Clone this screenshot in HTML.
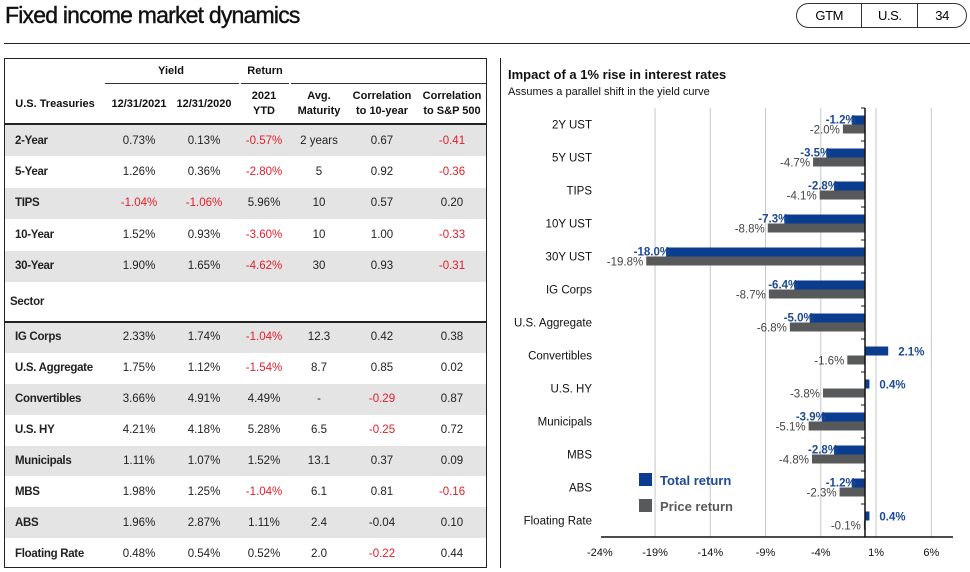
<!DOCTYPE html>
<html><head><meta charset="utf-8">
<style>
body{margin:0;width:970px;height:572px;background:#fff;font-family:"Liberation Sans",Arial,sans-serif;position:relative;overflow:hidden}
.abs{position:absolute}
#title{left:5px;top:2px;font-size:23px;letter-spacing:-0.8px;color:#111;-webkit-text-stroke:0.4px #111}
#pill{left:796px;top:3px;width:171px;height:25px;border:1px solid #333;border-radius:13px;box-sizing:border-box;display:flex;font-size:13px;letter-spacing:-0.4px}
#pill div{display:flex;align-items:center;justify-content:center;border-left:1px solid #333}
#pill div:first-child{border-left:none}
#rule{left:4px;top:43px;width:966px;height:1px;background:#222}
#tbl{left:4px;top:58px;width:483px;height:510px;border:1px solid #222;border-bottom:1.5px solid #222;box-sizing:border-box}
.row{position:absolute;left:0;width:481px;font-size:11.5px;color:#222}
.row span{position:absolute;top:50%;transform:translate(-50%,-50%);white-space:nowrap}
.row span.l{transform:translate(0,-50%);font-weight:bold;letter-spacing:-0.3px}
.sh{background:#e4e4e4}
.r{color:#e0202c}
.hd{position:absolute;font-size:11px;font-weight:bold;text-align:center;line-height:15px;color:#111;transform:translateX(-50%)}
#rp{left:500px;top:58px;width:1px;height:510px;background:#222}
</style></head><body>
<div id="title" class="abs">Fixed income market dynamics</div>
<div id="pill" class="abs"><div style="width:66px">GTM</div><div style="width:56px">U.S.</div><div style="width:49px">34</div></div>
<div id="rule" class="abs"></div>

<div id="tbl" class="abs">
 <div class="hd" style="left:166px;top:5px">Yield</div>
 <div class="hd" style="left:260px;top:5px">Return</div>
 <div class="abs" style="left:100px;top:24px;width:134px;height:1px;background:#333"></div>
 <div class="abs" style="left:236px;top:24px;width:48px;height:1px;background:#333"></div>
 <div class="abs" style="left:286px;top:24px;width:195px;height:1px;background:#333"></div>
 <div class="hd" style="left:50px;top:38px">U.S. Treasuries</div>
 <div class="hd" style="left:134px;top:38px">12/31/2021</div>
 <div class="hd" style="left:199px;top:38px">12/31/2020</div>
 <div class="hd" style="left:259px;top:30px">2021<br>YTD</div>
 <div class="hd" style="left:314px;top:30px">Avg.<br>Maturity</div>
 <div class="hd" style="left:377px;top:30px">Correlation<br>to 10-year</div>
 <div class="hd" style="left:447px;top:30px">Correlation<br>to S&amp;P 500</div>
 <div class="abs" style="left:0;top:64px;width:481px;height:2px;background:#222"></div>
 <div id="rows"></div>
</div>
<div id="rp" class="abs"></div>

<svg class="abs" style="left:0;top:0" width="970" height="572" id="chart">
 <text x="508" y="79" font-size="13" font-weight="bold" fill="#111">Impact of a 1% rise in interest rates</text>
 <text x="508" y="95" font-size="11" fill="#111">Assumes a parallel shift in the yield curve</text>
 <g id="g"></g>
</svg>

<script>
const rowLabels=["2-Year","5-Year","TIPS","10-Year","30-Year","Sector","IG Corps","U.S. Aggregate","Convertibles","U.S. HY","Municipals","MBS","ABS","Floating Rate"];
const rowVals=[
["0.73%","0.13%","-0.57%","2 years","0.67","-0.41"],
["1.26%","0.36%","-2.80%","5","0.92","-0.36"],
["-1.04%","-1.06%","5.96%","10","0.57","0.20"],
["1.52%","0.93%","-3.60%","10","1.00","-0.33"],
["1.90%","1.65%","-4.62%","30","0.93","-0.31"],
null,
["2.33%","1.74%","-1.04%","12.3","0.42","0.38"],
["1.75%","1.12%","-1.54%","8.7","0.85","0.02"],
["3.66%","4.91%","4.49%","-","-0.29","0.87"],
["4.21%","4.18%","5.28%","6.5","-0.25","0.72"],
["1.11%","1.07%","1.52%","13.1","0.37","0.09"],
["1.98%","1.25%","-1.04%","6.1","0.81","-0.16"],
["1.96%","2.87%","1.11%","2.4","-0.04","0.10"],
["0.48%","0.54%","0.52%","2.0","-0.22","0.44"]];
const shaded=[1,0,1,0,1,0,1,0,1,0,1,0,1,0];
const colX=[134,199,259,314,377,447];
const rows=document.getElementById('rows');
let y=66;
rowLabels.forEach((lab,i)=>{
  const h=i<5?31.4:(i==5?40:30.9);
  const d=document.createElement('div');
  d.className='row'+(shaded[i]?' sh':'');
  d.style.top=y+'px';d.style.height=h+'px';
  
  
  let html='<span class="l" style="left:'+(i==5?5:10)+'px">'+lab+'</span>';
  if(rowVals[i]) rowVals[i].forEach((v,j)=>{const red=v.startsWith('-')&&v.length>1&&v!=="-0.04";html+='<span style="left:'+colX[j]+'px"'+(red?' class="r"':'')+'>'+v+'</span>';});
  d.innerHTML=html;
  rows.appendChild(d);
  y+=h;
  if(i==5){const ln=document.createElement('div');ln.className='abs';ln.style.cssText='left:0;top:'+(y-1)+'px;width:481px;height:2px;background:#222;z-index:2';rows.appendChild(ln);}
});

// chart data
const categories=["2Y UST","5Y UST","TIPS","10Y UST","30Y UST","IG Corps","U.S. Aggregate","Convertibles","U.S. HY","Municipals","MBS","ABS","Floating Rate"];
const totalReturn=[-1.2,-3.5,-2.8,-7.3,-18.0,-6.4,-5.0,2.1,0.4,-3.9,-2.8,-1.2,0.4];
const priceReturn=[-2.0,-4.7,-4.1,-8.8,-19.8,-8.7,-6.8,-1.6,-3.8,-5.1,-4.8,-2.3,-0.1];
const ticks=[-24,-19,-14,-9,-4,1,6];
const tickLabels=["-24%","-19%","-14%","-9%","-4%","1%","6%"];

const NS='http://www.w3.org/2000/svg';
const g=document.getElementById('g');
const X=v=>865+v*11.05;
const topY=108,botY=537;
const step=(botY-topY)/categories.length;
const Yc=i=>topY+step*(i+0.5);
function el(t,a,txt){const e=document.createElementNS(NS,t);for(const k in a)e.setAttribute(k,a[k]);if(txt!=null)e.textContent=txt;g.appendChild(e);return e;}
ticks.forEach((t,i)=>{
  if(i>0){const l=el('line',{x1:X(t),x2:X(t),y1:topY,y2:botY,stroke:'#c6c6c6','stroke-width':1});
  
  }
  const tx=el('text',{x:X(t),y:556,'font-size':11,'text-anchor':'middle',fill:'#111'},tickLabels[i]);
  
  
});
categories.forEach((c,i)=>{
  const cy=Yc(i);
  const lb=el('text',{x:592,y:cy+4,'font-size':11.5,'text-anchor':'end',fill:'#111'},c);
  
  
  const tv=totalReturn[i],pv=priceReturn[i];
  const b1=el('rect',{x:Math.min(X(0),X(tv)),y:cy-9,width:Math.abs(X(tv)-X(0)),height:9,fill:'#0a3d8f'});
  
  
  const b2=el('rect',{x:Math.min(X(0),X(pv)),y:cy,width:Math.abs(X(pv)-X(0)),height:9,fill:'#58595b'});
  
  
  let t1;
  if(tv<0) t1=el('text',{x:X(tv)+4,y:cy-1,'font-size':11.5,'font-weight':'bold','text-anchor':'end',fill:'#1d4a94'},tv.toFixed(1)+'%');
  else t1=el('text',{x:X(tv)+10,y:cy,'font-size':11.5,'font-weight':'bold',fill:'#1d4a94'},tv.toFixed(1)+'%');
  
  
  const t2=el('text',{x:X(pv)-3,y:cy+9,'font-size':11.5,'text-anchor':'end',fill:'#444'},pv.toFixed(1)+'%');
  
  
  el('line',{x1:861,x2:865,y1:topY+step*i,y2:topY+step*i,stroke:'#111'});
});
el('line',{x1:865,x2:865,y1:topY,y2:botY,stroke:'#111','stroke-width':1.5});
el('line',{x1:601,x2:953,y1:botY,y2:botY,stroke:'#111','stroke-width':1.5});
const lg1=el('rect',{x:639,y:473,width:13,height:13,fill:'#0a3d8f'});


const lt1=el('text',{x:660,y:485,'font-size':13,'font-weight':'bold',fill:'#1d4a94'},'Total return');


const lg2=el('rect',{x:639,y:499,width:13,height:13,fill:'#58595b'});


const lt2=el('text',{x:660,y:511,'font-size':13,'font-weight':'bold',fill:'#58595b'},'Price return');


</script>
</body></html>
